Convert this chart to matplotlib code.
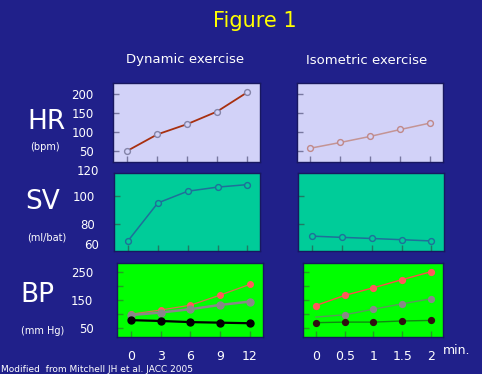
import matplotlib
matplotlib.use("Agg")
import matplotlib.pyplot as plt

# ---- data ----
dyn_x = [0, 3, 6, 9, 12]
iso_x = [0, 0.5, 1, 1.5, 2]
dyn_x_labels = ["0", "3", "6", "9", "12"]
iso_x_labels = ["0", "0.5", "1", "1.5", "2"]

hr_dyn = [50, 93, 120, 153, 203]
hr_iso = [57, 72, 88, 106, 123]

sv_dyn = [67.5, 95, 103.5, 106.5, 108.3]
sv_iso = [71, 70.1, 69.3, 68.4, 67.5]

bp_sys_dyn = [100, 115, 132, 168, 206]
bp_mean_dyn = [97, 106, 118, 133, 145]
bp_dia_dyn = [79, 76, 72, 70, 68]

bp_sys_iso = [131, 167, 194, 223, 251]
bp_mean_iso = [90, 98, 118, 137, 155]
bp_dia_iso = [70, 72, 72, 76, 78]

hr_ticks = [50, 100, 150, 200]
sv_ticks = [80, 100]
bp_ticks = [50, 100, 150, 200, 250]
bp_labels = ["50", "", "150", "", "250"]

# ---- style ----
BG = "#20208a"
HR_BG = "#d2d2f8"
SV_BG = "#00cc99"
BP_BG = "#00ff00"
W, H = 482, 374

fig = plt.figure(figsize=(W / 100, H / 100), dpi=100)
fig.patch.set_facecolor(BG)


def add_ax(x0, y0, x1, y1, fc):
    ax = fig.add_axes([x0 / W, 1 - y1 / H, (x1 - x0) / W, (y1 - y0) / H])
    ax.set_facecolor(fc)
    for s in ax.spines.values():
        s.set_color("#181860")
        s.set_linewidth(1.0)
    return ax


def style_ticks(ax, tcolor):
    ax.tick_params(axis="both", direction="in", length=4, width=1,
                   color=tcolor, labelcolor="white")
    ax.tick_params(axis="x", labelbottom=False)
    ax.tick_params(axis="y", labelleft=False)


# HR
ax_hr_d = add_ax(113.3, 83.3, 260, 162.3, HR_BG)
ax_hr_i = add_ax(296.7, 83.3, 443.3, 162.3, HR_BG)
# SV
ax_sv_d = add_ax(114, 173.3, 260.3, 251.3, SV_BG)
ax_sv_i = add_ax(298, 173.3, 444.3, 251.3, SV_BG)
# BP
ax_bp_d = add_ax(117, 263.3, 262.7, 337.3, BP_BG)
ax_bp_i = add_ax(302.7, 263.3, 443.3, 337.3, BP_BG)

for ax in (ax_hr_d, ax_sv_d, ax_bp_d):
    ax.set_xlim(-1.4, 13.3)
    ax.set_xticks(dyn_x)
for ax in (ax_hr_i, ax_sv_i, ax_bp_i):
    ax.set_xlim(-0.23, 2.215)
    ax.set_xticks(iso_x)

# HR panels
for ax in (ax_hr_d, ax_hr_i):
    ax.set_ylim(20, 227)
    ax.set_yticks(hr_ticks)
    style_ticks(ax, "#7878a0")
ax_hr_d.plot(dyn_x, hr_dyn, color="#a83010", lw=1.3, marker="o", ms=4.2,
             mfc=HR_BG, mec="#8484a8", mew=1.0)
ax_hr_i.plot(iso_x, hr_iso, color="#c49494", lw=1.1, marker="o", ms=4.2,
             mfc=HR_BG, mec="#c08888", mew=1.0)
ax_hr_d.tick_params(axis="y", labelleft=True, labelsize=8.5, pad=14)

# SV panels
for ax in (ax_sv_d, ax_sv_i):
    ax.set_ylim(60, 116.5)
    ax.set_yticks(sv_ticks)
    style_ticks(ax, "#207a64")
for ax, xs, ys in ((ax_sv_d, dyn_x, sv_dyn), (ax_sv_i, iso_x, sv_iso)):
    ax.plot(xs, ys, color="#1f6f9a", lw=1.1, marker="o", ms=4.2,
            mfc=SV_BG, mec="#1f6f9a", mew=1.0)
ax_sv_d.tick_params(axis="y", labelleft=True, labelsize=8.5, pad=14)
ytr = ax_sv_d.get_yaxis_transform()
ax_sv_d.text(-0.1, 117.9, "120", transform=ytr, ha="right", va="center",
             color="white", fontsize=8.5, clip_on=False)
ax_sv_d.text(-0.1, 64.3, "60", transform=ytr, ha="right", va="center",
             color="white", fontsize=8.5, clip_on=False)

# BP panels
for ax in (ax_bp_d, ax_bp_i):
    ax.set_ylim(18, 281)
    ax.set_yticks(bp_ticks)
    style_ticks(ax, "#22a022")
    ax.tick_params(axis="x", labelbottom=True, labelsize=9, pad=9)
ax_bp_d.set_xticklabels(dyn_x_labels)
ax_bp_i.set_xticklabels(iso_x_labels)
ax_bp_d.set_yticklabels(bp_labels)
ax_bp_d.tick_params(axis="y", labelleft=True, labelsize=8.5, pad=17)

ax_bp_d.plot(dyn_x, bp_sys_dyn, color="#d87050", lw=0.9, marker="o", ms=4,
             mfc="#ff5a5a", mec="#ff5a5a", zorder=3)
ax_bp_d.plot(dyn_x, bp_mean_dyn, color="#888888", lw=1.8, marker="o", ms=5,
             mfc="#888888", mec="#888888", zorder=3)
ax_bp_d.plot(dyn_x, bp_dia_dyn, color="#000000", lw=1.6, marker="o", ms=5,
             mfc="#000000", mec="#000000", zorder=3)

ax_bp_i.plot(iso_x, bp_sys_iso, color="#ff4a4a", lw=1.0, marker="o", ms=4.2,
             mfc="#ff5a5a", mec="#ff5a5a", zorder=3)
ax_bp_i.plot(iso_x, bp_mean_iso, color="#5a9a5a", lw=1.0, marker="o", ms=4.2,
             mfc="#888888", mec="#888888", markevery=[1, 2, 3, 4], zorder=3)
ax_bp_i.plot(iso_x, bp_dia_iso, color="#108a10", lw=1.0, marker="o", ms=4.2,
             mfc="#301010", mec="#301010", zorder=3)

# ---- texts ----
def ftext(x, y, s, **kw):
    fig.text(x / W, 1 - y / H, s, **kw)

ftext(255, 21, "Figure 1", color="#ffff00", fontsize=15, ha="center", va="center")
ftext(185, 60, "Dynamic exercise", color="white", fontsize=9.5, ha="center", va="center")
ftext(367, 60, "Isometric exercise", color="white", fontsize=9.5, ha="center", va="center")

ftext(47, 122, "HR", color="white", fontsize=19, ha="center", va="center")
ftext(45, 147, "(bpm)", color="white", fontsize=7, ha="center", va="center")
ftext(43, 202, "SV", color="white", fontsize=19, ha="center", va="center")
ftext(47, 237, "(ml/bat)", color="white", fontsize=7, ha="center", va="center")
ftext(37, 295, "BP", color="white", fontsize=19, ha="center", va="center")
ftext(43, 331, "(mm Hg)", color="white", fontsize=7, ha="center", va="center")

ftext(457, 350, "min.", color="white", fontsize=9, ha="center", va="center")
ftext(1, 369, "Modified  from Mitchell JH et al. JACC 2005", color="white",
      fontsize=6.5, ha="left", va="center")

fig.savefig("out.png", dpi=100, facecolor=BG)
